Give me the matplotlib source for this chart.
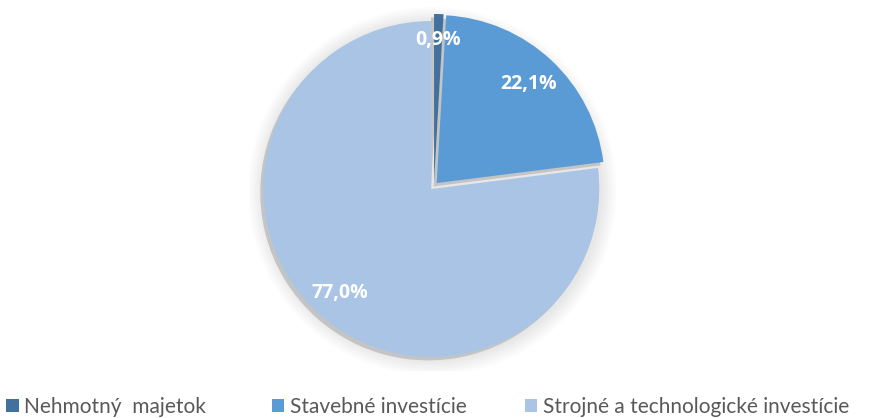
import numpy as np
import matplotlib.pyplot as plt
from matplotlib.patches import Circle

# data
labels = ["Nehmotný  majetok", "Stavebné investície", "Strojné a technologické investície"]
values = [0.9, 22.1, 77.0]
colors = ["#41719C", "#5B9BD5", "#AAC4E5"]
explode = [0.024, 0.024, 0.024]
label_dist = [0.845, 0.805, 0.825]

plt.rcParams['font.family'] = ['Lato', 'DejaVu Sans']

fig = plt.figure(figsize=(8.7, 4.18), dpi=100)
ax = fig.add_axes([0.2864, 0.1129, 0.4248, 0.8842])

# soft outer shadow
for i in range(8):
    ax.add_patch(Circle((-0.01, -0.03), 1.0 + 0.012 * (i + 1), color='k',
                        alpha=0.012, lw=0, zorder=0))

# gray bevel under slices
ax.pie(values, colors=['#c4c4c4'] * 3, explode=explode, startangle=90,
       counterclock=False, center=(-0.018, -0.02),
       wedgeprops=dict(linewidth=0, zorder=1))

wedges, texts, autotexts = ax.pie(values, colors=colors, explode=explode,
                                  startangle=90, counterclock=False,
                                  autopct=lambda p: ('%.1f%%' % p).replace('.', ','),
                                  wedgeprops=dict(linewidth=0, zorder=2),
                                  textprops=dict(color='white', fontsize=14,
                                                 fontweight='bold',
                                                 family=['Open Sans', 'DejaVu Sans']))

for w, t, d, e in zip(wedges, autotexts, label_dist, explode):
    ang = np.deg2rad((w.theta1 + w.theta2) / 2)
    t.set_position(((d + e) * np.cos(ang), (d + e) * np.sin(ang)))
    t.set_zorder(5)

ax.set_xlim(-1.1, 1.1)
ax.set_ylim(-1.1, 1.1)
ax.set_aspect('equal')
ax.axis('off')

# one legend entry per column, placed like the original
legend_x = [6 / 870, 272 / 870, 525 / 870]
for w, lab, x in zip(wedges, labels, legend_x):
    fig.legend([w], [lab], loc='lower left', bbox_to_anchor=(x, 0.002),
               frameon=False, fontsize=15, labelcolor='#595959',
               handlelength=0.6, handleheight=0.6, handletextpad=0.25,
               borderpad=0, borderaxespad=0)

fig.savefig('out.png', dpi=100)
